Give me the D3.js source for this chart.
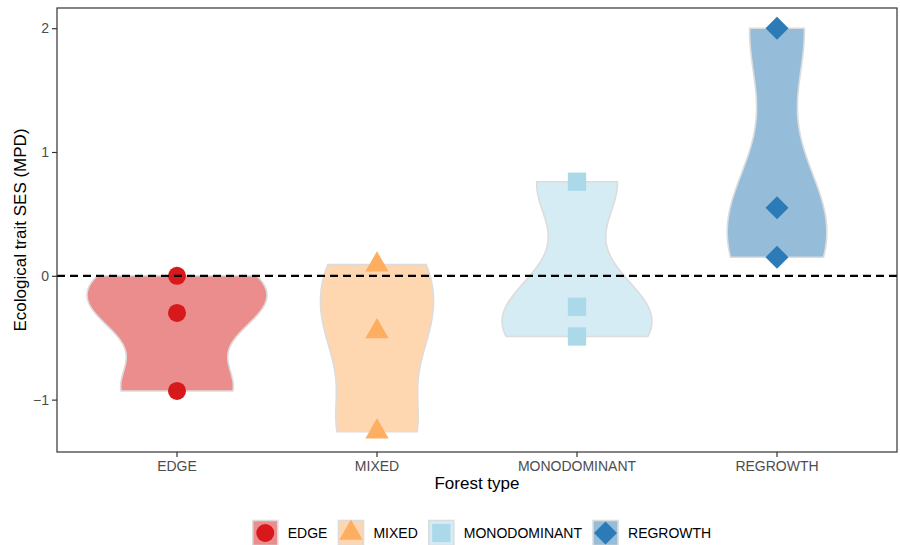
<!DOCTYPE html>
<html>
<head>
<meta charset="utf-8">
<script src="https://cdn.jsdelivr.net/npm/d3@7"></script>
<style>
  body { margin: 0; background: #fff; }
  svg { display: block; font-family: "Liberation Sans", Arial, sans-serif; }
</style>
</head>
<body>
<svg id="chart" width="900" height="545"></svg>
<script>
// Forest types and their SES (MPD) values
const categories = ["EDGE", "MIXED", "MONODOMINANT", "REGROWTH"];
const edgeValues = [0.0, -0.30, -0.93];
const mixedValues = [0.09, -0.45, -1.26];
const monoValues = [0.76, -0.25, -0.49];
const regrowthValues = [2.0, 0.55, 0.15];
const seriesValues = [edgeValues, mixedValues, monoValues, regrowthValues];
const yTicks = [-1, 0, 1, 2];

const pointColors = ["#d7191c", "#fdae61", "#abd9e9", "#2c7bb6"];
// circle, triangle, square, diamond (a square turned by 45 degrees)
const shapes = [d3.symbolCircle, d3.symbolTriangle, d3.symbolSquare, d3.symbolSquare];
const shapeSizes = [255, 235, 335, 265];
const shapeRotations = [0, 0, 0, 45];

const svg = d3.select("#chart");
const margin = { left: 57, top: 8, right: 3, bottom: 93 };
const W = 900, H = 545;
const pw = W - margin.left - margin.right;
const ph = H - margin.top - margin.bottom;

// y domain with 5% expansion around data range
const allVals = seriesValues.flat();
const ymin = d3.min(allVals), ymax = d3.max(allVals);
const pad = (ymax - ymin) * 0.05;
const y = d3.scaleLinear().domain([ymin - pad, ymax + pad]).range([margin.top + ph, margin.top]);
const x = d3.scaleBand().domain(categories).range([margin.left, margin.left + pw])
  .paddingOuter(0.1).paddingInner(0);
const xc = c => x(c) + x.bandwidth() / 2;

// Gaussian KDE with Silverman (nrd0) bandwidth, trimmed to the data range
function quantile7(sorted, p) {
  const h = (sorted.length - 1) * p, lo = Math.floor(h), hi = Math.ceil(h);
  return sorted[lo] + (h - lo) * (sorted[hi] - sorted[lo]);
}
function nrd0(v) {
  const s = v.slice().sort((a, b) => a - b);
  const sd = d3.deviation(v);
  const iqr = quantile7(s, 0.75) - quantile7(s, 0.25);
  const lo = Math.min(sd, iqr / 1.34);
  return 0.9 * lo * Math.pow(v.length, -0.2);
}
function kde(v) {
  const bw = nrd0(v);
  const lo = d3.min(v), hi = d3.max(v);
  const n = 512, out = [];
  for (let i = 0; i < n; i++) {
    const t = lo + (hi - lo) * i / (n - 1);
    let s = 0;
    for (const xi of v) {
      const z = (t - xi) / bw;
      s += Math.exp(-0.5 * z * z) / Math.sqrt(2 * Math.PI);
    }
    out.push([t, s / (v.length * bw)]);
  }
  return out;
}
const densities = seriesValues.map(kde);
const maxDens = d3.max(densities.flat(), d => d[1]);
const halfMax = x.bandwidth() * 0.45;

const panel = svg.append("g");

// violins
densities.forEach((dens, i) => {
  const cx = xc(categories[i]);
  const area = d3.area()
    .y(d => y(d[0]))
    .x0(d => cx - halfMax * d[1] / maxDens)
    .x1(d => cx + halfMax * d[1] / maxDens);
  panel.append("path").datum(dens)
    .attr("d", area)
    .attr("fill", pointColors[i]).attr("fill-opacity", 0.5)
    .attr("stroke", "#dcdcdc").attr("stroke-width", 1.6);
});

const symbolPath = i => d3.symbol().type(shapes[i]).size(shapeSizes[i])();

// points
seriesValues.forEach((vals, i) => {
  const cx = xc(categories[i]);
  panel.selectAll(null).data(vals).enter().append("path")
    .attr("d", symbolPath(i))
    .attr("transform", d => `translate(${cx},${y(d)}) rotate(${shapeRotations[i]})`)
    .attr("fill", pointColors[i]);
});

// reference line at zero
panel.append("line")
  .attr("x1", margin.left).attr("x2", margin.left + pw)
  .attr("y1", y(0)).attr("y2", y(0))
  .attr("stroke", "#000").attr("stroke-width", 2.2)
  .attr("stroke-dasharray", "8,5");

// panel border
svg.append("rect")
  .attr("x", margin.left).attr("y", margin.top)
  .attr("width", pw).attr("height", ph)
  .attr("fill", "none").attr("stroke", "#333").attr("stroke-width", 1.2);

// axes
const yAxis = svg.append("g").attr("transform", `translate(${margin.left},0)`)
  .call(d3.axisLeft(y).tickValues(yTicks).tickSize(5).tickPadding(3)
    .tickFormat(d => d < 0 ? "\u2212" + Math.abs(d) : d));
const xAxis = svg.append("g").attr("transform", `translate(0,${margin.top + ph})`)
  .call(d3.axisBottom(x).tickSize(5).tickPadding(4));
[yAxis, xAxis].forEach(a => {
  a.select(".domain").remove();
  a.selectAll(".tick line").attr("stroke", "#333").attr("stroke-width", 1.2);
  a.selectAll(".tick text").attr("fill", "#4d4d4d").style("font-size", "14px")
    .style("font-family", "'Liberation Sans', Arial, sans-serif");
});

// axis titles
svg.append("text").attr("x", margin.left + pw / 2).attr("y", 489)
  .attr("text-anchor", "middle").style("font-size", "17px").attr("fill", "#000")
  .text("Forest type");
svg.append("text").attr("transform", `translate(26,${margin.top + ph / 2}) rotate(-90)`)
  .attr("text-anchor", "middle").style("font-size", "17px").attr("fill", "#000")
  .text("Ecological trait SES (MPD)");

// legend
const legend = svg.append("g");
const keySize = 25, ly = 533;
const items = [];
categories.forEach((c, i) => {
  const g = legend.append("g");
  g.append("rect").attr("x", 0).attr("y", ly - keySize / 2)
    .attr("width", keySize).attr("height", keySize)
    .attr("fill", pointColors[i]).attr("fill-opacity", 0.5)
    .attr("stroke", "#dcdcdc").attr("stroke-width", 1.6);
  g.append("path").attr("d", symbolPath(i))
    .attr("transform", `translate(${keySize / 2},${ly}) rotate(${shapeRotations[i]})`)
    .attr("fill", pointColors[i]);
  const t = g.append("text").attr("x", keySize + 10).attr("y", ly + 5)
    .style("font-size", "14px").attr("fill", "#000").text(c);
  const w = keySize + 10 + t.node().getComputedTextLength();
  items.push({ g, w });
});
const gap = 11;
const total = d3.sum(items, d => d.w) + gap * (items.length - 1);
let lx = 482 - total / 2;
items.forEach(it => {
  it.g.attr("transform", `translate(${lx},0)`);
  lx += it.w + gap;
});
</script>
</body>
</html>
